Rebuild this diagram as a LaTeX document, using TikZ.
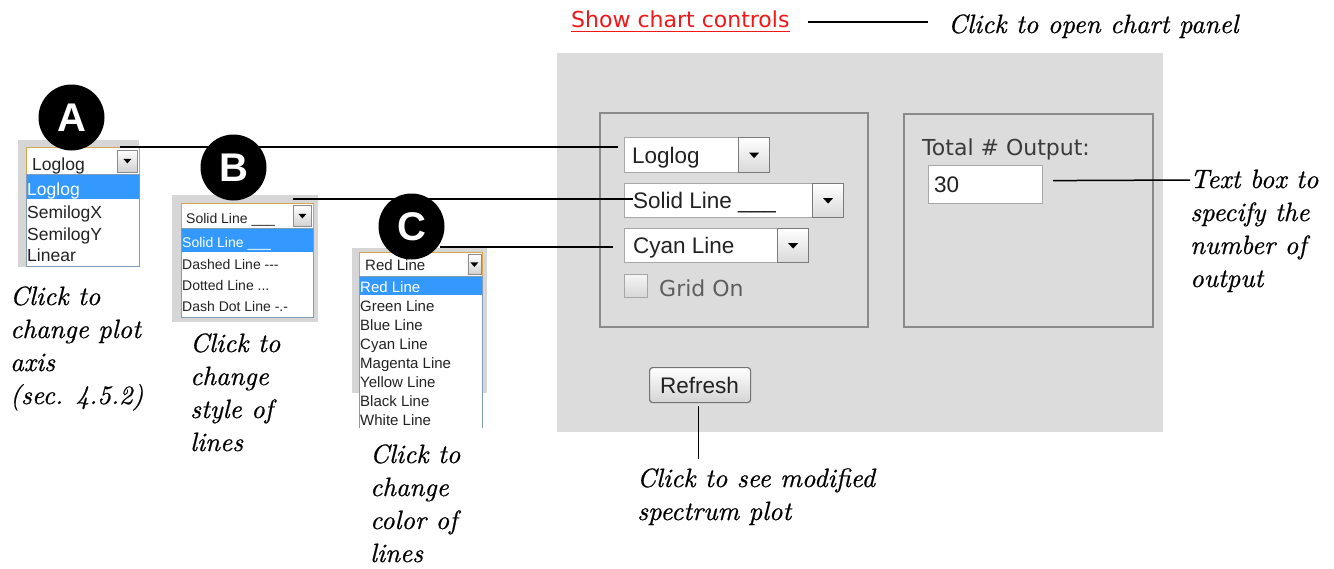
\documentclass[tikz,border=0pt]{standalone}
\usepackage{fontspec}
\usetikzlibrary{calc}
\newfontfamily\uifont{Liberation Sans}
\newfontfamily\tahfont{DejaVu Sans}
\newfontfamily\notefont{lmroman10-italic.otf}[FakeBold=0.7]
\definecolor{panelgray}{HTML}{DCDCDC}
\definecolor{sidegray}{HTML}{D6D6D6}
\definecolor{boxgray}{HTML}{8A8A8A}
\definecolor{fieldgray}{HTML}{A8A8A8}
\definecolor{btnedge}{HTML}{7A7A7A}
\definecolor{ddorange}{HTML}{D9A64E}
\definecolor{listblue}{HTML}{7F9DB9}
\definecolor{hiblue}{HTML}{3399FF}
\definecolor{linkred}{HTML}{F01818}
\definecolor{uitext}{HTML}{222222}
\definecolor{labeltext}{HTML}{3A3A3A}
\definecolor{dimtext}{HTML}{5E5E5E}
\newcommand\notesize{\fontsize{26.5}{33}\selectfont}
\newcommand\notetext[2]{\parbox[t]{#1}{\notesize\raggedright #2}}
\begin{document}
\begin{tikzpicture}[x=1pt,y=-1pt,
  box/.style={draw, rectangle, inner sep=0, anchor=north west},
  group/.style={box, draw=boxgray, line width=1.6pt, fill=panelgray},
  field/.style={box, draw=fieldgray, line width=1.2pt, fill=white},
  ddbtn/.style={box, draw=btnedge, line width=1.2pt, top color=white, bottom color=black!15},
  smallbtn/.style={box, draw=black!45, line width=0.8pt, top color=white, bottom color=black!18},
  closedbox/.style={box, draw=ddorange, line width=1.2pt, fill=white},
  listbox/.style={box, draw=listblue, line width=1pt, fill=white},
  hirow/.style={box, draw=none, fill=hiblue},
  leader/.style={line width=1.5pt, black},
  badge/.style={circle, fill=black, text=white, minimum size=66pt, inner sep=0,
    font=\uifont\bfseries\fontsize{40}{40}\selectfont},
  note/.style={anchor=base west, inner sep=0, font=\notefont},
  uitxt/.style={anchor=base west, inner sep=0, text=uitext},
  ui22/.style={uitxt, font=\uifont\fontsize{22.5}{22.5}\selectfont},
  ui17/.style={uitxt, font=\uifont\fontsize{17.5}{17.5}\selectfont},
  ui14/.style={uitxt, font=\uifont\fontsize{14}{14}\selectfont},
  ui15/.style={uitxt, font=\uifont\fontsize{15}{15}\selectfont},
  tah/.style={anchor=base west, inner sep=0, font=\tahfont\fontsize{22}{22}\selectfont}
]
\useasboundingbox (0,0) rectangle (1334,568);
\fill[white] (0,0) rectangle (1334,568);

% ---- chart control panel ----
\node[box, draw=none, fill=panelgray, minimum width=606pt, minimum height=379pt] (panel) at (557,53) {};
\node[group, minimum width=268pt, minimum height=214pt] (grpL) at (599,112) {};
\node[group, minimum width=249pt, minimum height=213pt] (grpR) at (903,113) {};

% axis type select
\node[field, minimum width=114pt, minimum height=35pt] (rLog) at (624,137) {};
\node[ddbtn, minimum width=31pt, minimum height=35pt] (rLogB) at (738,137) {};
\node[ui22] (rLogT) at (632,163) {Loglog};
% line style select
\node[field, minimum width=188pt, minimum height=34pt] (rSty) at (624,183) {};
\node[ddbtn, minimum width=31pt, minimum height=34pt] (rStyB) at (812,183) {};
\node[ui22] (rStyT) at (633,208) {Solid Line \_\_\_};
% line colour select
\node[field, minimum width=153pt, minimum height=34pt] (rCol) at (624,228) {};
\node[ddbtn, minimum width=31pt, minimum height=34pt] (rColB) at (777,228) {};
\node[ui22] (rColT) at (633,253) {Cyan Line};
% grid checkbox
\node[box, draw=black!35, line width=1.2pt, top color=black!4, bottom color=black!16,
      minimum width=23pt, minimum height=23pt] (grid) at (624,274) {};
\node[tah, text=dimtext] (gridT) at (659,296) {Grid On};
% output count
\node[tah, text=labeltext] (totT) at (922,155) {Total \# Output:};
\node[field, minimum width=114pt, minimum height=38pt] (outBox) at (928,165) {};
\node[ui22] (outT) at (934,192) {30};
% refresh button
\node[box, draw=black!55, line width=1.2pt, rounded corners=3pt, top color=white,
      bottom color=black!17, minimum width=101pt, minimum height=35pt] (refresh) at (649,367) {};
\node[ui22, anchor=base] (refreshT) at (699.5,393) {Refresh};

% arrows inside the select buttons
\foreach \b in {rLogB, rStyB, rColB}
  \fill[black] ($(\b.center)+(-5,-2.5)$) -- ++(10,0) -- ++(-5,5.5) -- cycle;

% show-controls link
\node[tah, text=linkred] (link) at (571,27) {Show chart controls};
\draw[linkred, line width=1.2pt] ($(link.base west)+(0,4.5)$) -- ($(link.base east)+(0,4.5)$);

% ---- opened select A: axis type ----
\node[box, draw=none, fill=sidegray, minimum width=121pt, minimum height=127pt] (bgA) at (18,140) {};
\node[closedbox, minimum width=113pt, minimum height=27pt] (ddA) at (26,147) {};
\node[smallbtn, minimum width=20pt, minimum height=22pt] (ddAB) at (117,149.5) {};
\node[ui17] (ddAT) at (32,170) {Loglog};
\node[listbox, minimum width=113pt, minimum height=92pt] (listA) at (26,174) {};
\node[hirow, minimum width=112pt, minimum height=24pt] (hiA) at (26.5,175) {};
\node[ui17, text=white] at (27,195) {Loglog};
\node[ui17] at (27,218) {SemilogX};
\node[ui17] at (27,240) {SemilogY};
\node[ui17] at (27,261) {Linear};

% ---- opened select B: line style ----
\node[box, draw=none, fill=sidegray, minimum width=146pt, minimum height=127pt] (bgB) at (172,195) {};
\node[closedbox, minimum width=132pt, minimum height=25pt] (ddB) at (181,203) {};
\node[smallbtn, minimum width=18pt, minimum height=21pt] (ddBB) at (293,205) {};
\node[ui14] (ddBT) at (186,223) {Solid Line \_\_\_};
\node[listbox, minimum width=132pt, minimum height=89pt] (listB) at (181,228) {};
\node[hirow, minimum width=131pt, minimum height=23pt] (hiB) at (181.5,229) {};
\node[ui14, text=white] at (182,247) {Solid Line \_\_\_};
\node[ui14] at (182,269) {Dashed Line ---};
\node[ui14] at (182,290) {Dotted Line ...};
\node[ui14] at (182,311) {Dash Dot Line -.-};

% ---- opened select C: line colour ----
\node[box, draw=none, fill=sidegray, minimum width=135pt, minimum height=145pt] (bgC) at (352,248) {};
\node[closedbox, minimum width=123pt, minimum height=24pt] (ddC) at (359,252) {};
\node[smallbtn, minimum width=13pt, minimum height=20pt] (ddCB) at (467.5,254) {};
\node[ui15] (ddCT) at (365,270) {Red Line};
\fill[white] (359,276) rectangle (482,428);
\node[hirow, minimum width=122pt, minimum height=18pt] (hiC) at (359.5,276.5) {};
\draw[listblue, line width=1pt] (359,428) -- (359,276) -- (482,276) -- (482,428);
\node[ui15, text=white] at (360,292) {Red Line};
\node[ui15] at (360,311) {Green Line};
\node[ui15] at (360,330) {Blue Line};
\node[ui15] at (360,349) {Cyan Line};
\node[ui15] at (360,368) {Magenta Line};
\node[ui15] at (360,387) {Yellow Line};
\node[ui15] at (360,406) {Black Line};
\node[ui15] at (360,425) {White Line};

\foreach \b in {ddAB, ddBB, ddCB}
  \fill[black] ($(\b.center)+(-4,-2)$) -- ++(8,0) -- ++(-4,4.5) -- cycle;

% ---- leader lines ----
\coordinate (aFrom) at (120,147);
\coordinate (aTo) at (618,147);
\coordinate (bFrom) at (293,199);
\coordinate (bTo) at (633,199);
\coordinate (cFrom) at (440,247);
\coordinate (cTo) at (613,247);
\draw[leader] (aFrom) -- (aTo);
\draw[leader] (bFrom) -- (bTo);
\draw[leader] (cFrom) -- (cTo);

% ---- badges ----
\node[badge] (badgeA) at (71.5,117.5) {A};
\node[badge] (badgeB) at (233.5,167.5) {B};
\node[badge] (badgeC) at (411.5,226.5) {C};

% ---- notes ----
\node[note] (noteLink) at (948,33) {\notesize Click to open chart panel};
\draw[leader] ($(link.base east)+(18,-5)$) -- ($(noteLink.base west)+(-20,-11)$);

\node[note] (noteOut) at (1190,188) {\notetext{150pt}{Text box to\\specify the\\number of\\output}};
\draw[leader] ($(outBox.east)+(10,-4)$) -- ($(noteOut.base west)+(0,-8)$);

\node[note] (noteRef) at (637,487) {\notetext{300pt}{Click to see modified\\spectrum plot}};
\draw[leader] ($(refresh.south)+(-1.5,3)$) -- ++(0,53);

\node[note] (noteA) at (10,305) {\notetext{160pt}{Click to\\change plot\\axis\\(sec. 4.5.2)}};
\node[note] (noteB) at (190,352) {\notetext{120pt}{Click to\\change\\style of\\lines}};
\node[note] (noteC) at (370,463) {\notetext{120pt}{Click to\\change\\color of\\lines}};
\end{tikzpicture}
\end{document}
